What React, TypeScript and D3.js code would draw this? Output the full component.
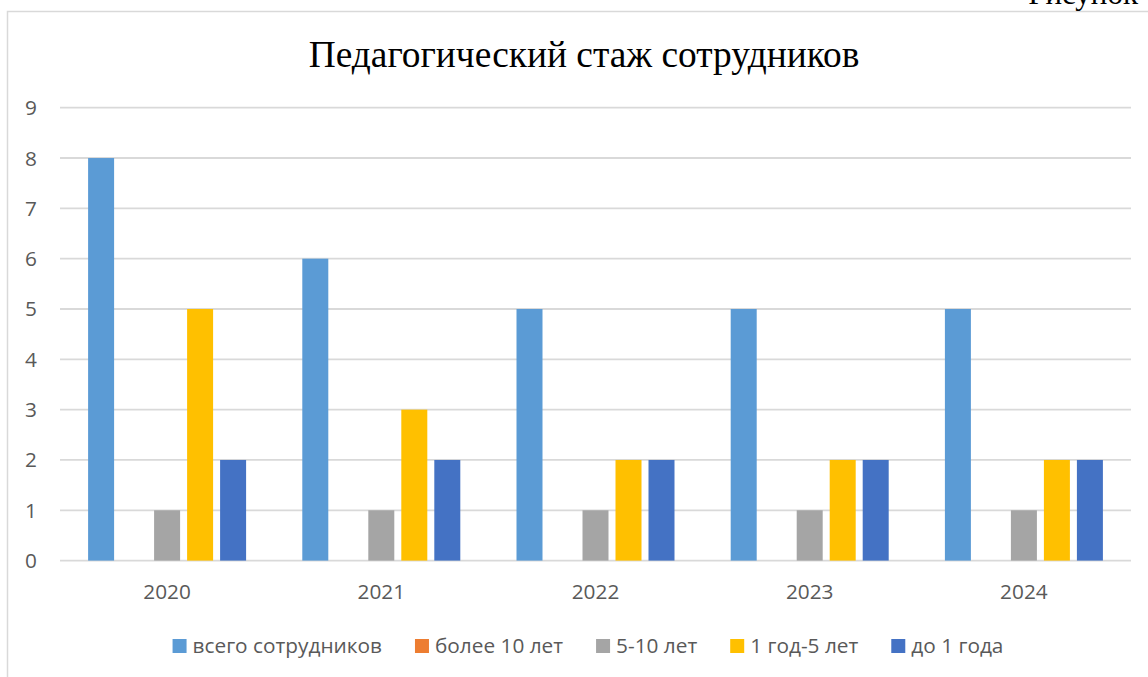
import React, { useEffect, useRef } from "react";
import * as d3 from "d3";

const title = "Педагогический стаж сотрудников";
const years = ["2020", "2021", "2022", "2023", "2024"];
const seriesNames = ["всего сотрудников", "более 10 лет", "5-10 лет", "1 год-5 лет", "до 1 года"];
const seriesColors = ["#5B9BD5", "#ED7D31", "#A5A5A5", "#FFC000", "#4472C4"];
const totalStaff = [8, 6, 5, 5, 5];
const over10 = [0, 0, 0, 0, 0];
const from5to10 = [1, 1, 1, 1, 1];
const from1to5 = [5, 3, 2, 2, 2];
const under1 = [2, 2, 2, 2, 2];
const yTicks = [0, 1, 2, 3, 4, 5, 6, 7, 8, 9];

const W = 1148;
const H = 677;
const FONT = "'Open Sans', 'Noto Sans', sans-serif";
const FS = 20.8;

export default function App() {
  const ref = useRef<SVGSVGElement>(null);

  useEffect(() => {
    const svg = d3.select(ref.current);
    svg.selectAll("*").remove();
    const values = [totalStaff, over10, from5to10, from1to5, under1];

    const plotL = 60, plotR = 1131, plotT = 107.7, plotB = 560.6;

    // outer border
    svg.append("rect")
      .attr("x", 7.5).attr("y", 11.5)
      .attr("width", W + 20).attr("height", H + 20)
      .attr("fill", "#fff").attr("stroke", "#D9D9D9").attr("stroke-width", 1.5);

    // top-right cut text
    svg.append("text")
      .attr("x", 1138).attr("y", 4)
      .attr("text-anchor", "end")
      .attr("font-family", "'Liberation Serif', serif")
      .attr("font-size", 31)
      .attr("fill", "#000")
      .text("Рисунок");

    // title
    svg.append("text")
      .attr("x", 584).attr("y", 66.5)
      .attr("text-anchor", "middle")
      .attr("font-family", "'Liberation Serif', 'Times New Roman', serif")
      .attr("font-size", 37.4)
      .attr("fill", "#000")
      .text(title);

    const y = d3.scaleLinear().domain([0, 9]).range([plotB, plotT]);
    const x0 = d3.scaleBand().domain(years).range([plotL, plotR]).padding(0);
    const groupW = 158;
    const x1 = d3.scaleBand().domain(seriesNames).range([0, groupW]).paddingInner(7 / 33).paddingOuter(0);

    // gridlines
    svg.append("g").selectAll("line").data(yTicks).join("line")
      .attr("x1", plotL).attr("x2", plotR)
      .attr("y1", (d) => y(d)).attr("y2", (d) => y(d))
      .attr("stroke", "#D9D9D9").attr("stroke-width", 1.8);

    // y labels
    svg.append("g").selectAll("text").data(yTicks).join("text")
      .attr("x", 37).attr("y", (d) => y(d) + 7.5)
      .attr("text-anchor", "end")
      .attr("font-family", FONT).attr("font-size", FS)
      .attr("fill", "#595959")
      .text((d) => String(d));

    // bars
    const gBars = svg.append("g");
    seriesNames.forEach((s, si) => {
      gBars.append("g").selectAll("rect").data(values[si]).join("rect")
        .attr("x", (_, i) => (x0(years[i]) as number) + (x0.bandwidth() - groupW) / 2 + (x1(s) as number))
        .attr("y", (d) => y(d))
        .attr("width", x1.bandwidth())
        .attr("height", (d) => plotB - y(d))
        .attr("fill", seriesColors[si]);
    });

    // x labels
    svg.append("g").selectAll("text").data(years).join("text")
      .attr("x", (d) => (x0(d) as number) + x0.bandwidth() / 2)
      .attr("y", 599)
      .attr("text-anchor", "middle")
      .attr("font-family", FONT).attr("font-size", FS)
      .attr("fill", "#595959")
      .text((d) => d);

    // legend
    const leg = svg.append("g");
    const items = seriesNames.map((name, i) => {
      const g = leg.append("g");
      g.append("rect").attr("x", 0).attr("y", -14).attr("width", 14).attr("height", 14).attr("fill", seriesColors[i]);
      const t = g.append("text").attr("x", 20).attr("y", 0)
        .attr("font-family", FONT).attr("font-size", FS).attr("fill", "#595959").text(name);
      const w = (t.node() as SVGTextElement).getComputedTextLength();
      return { g, w: 20 + w };
    });
    const gap = 33;
    const total = items.reduce((a, b) => a + b.w, 0) + gap * (items.length - 1);
    let cx = 588 - total / 2;
    items.forEach((it) => {
      it.g.attr("transform", `translate(${cx},653)`);
      cx += it.w + gap;
    });
  }, []);

  return (
    <svg ref={ref} width={W} height={H} style={{ position: "absolute", left: 0, top: 0, background: "#fff" }} />
  );
}
